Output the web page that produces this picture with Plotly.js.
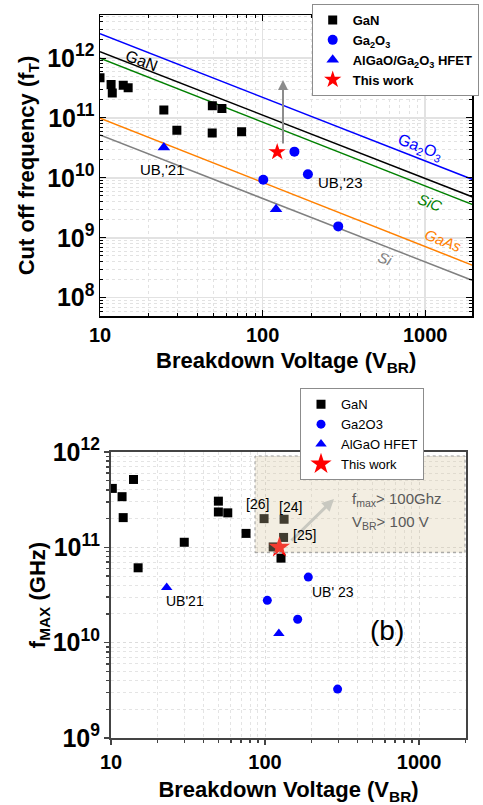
<!DOCTYPE html>
<html>
<head>
<meta charset="utf-8">
<script src="https://cdn.plot.ly/plotly-3.0.1.min.js"></script>
<style>html,body{margin:0;padding:0;background:#fff;}#chart{width:483px;height:805px;}</style>
</head>
<body>
<div id="chart"></div>
<script>
// ---------- DATA: top panel (cut-off frequency fT) ----------
const topGaN_x   = [10, 11.7, 11.9, 13.9, 14.9, 24.7, 29.7, 49.1, 56.2, 49, 74.3];
const topGaN_y   = [4.7e11, 3.6e11, 2.6e11, 3.5e11, 3.2e11, 1.36e11, 6.2e10, 1.6e11, 1.43e11, 5.6e10, 5.9e10];
const topGa2O3_x = [157, 190, 101, 292];
const topGa2O3_y = [2.74e10, 1.15e10, 9.3e9, 1.55e9];
const topHFET_x  = [24.7, 121];
const topHFET_y  = [3.2e10, 3.0e9];
const topThis_x  = [123];
const topThis_y  = [2.7e10];
// material limit lines (value at V_BR = 10 and 2000)
const limitX        = [10, 2000];
const limitGa2O3_y  = [2.54e12, 9.2e9];
const limitGaN_y    = [1.27e12, 4.7e9];
const limitSiC_y    = [9.9e11, 3.5e9];
const limitGaAs_y   = [9.9e10, 3.4e8];
const limitSi_y     = [5.2e10, 1.9e8];

// ---------- DATA: bottom panel (fMAX) ----------
const botGaN_x   = [10.2, 11.8, 12.0, 14.0, 15.0, 29.9, 49.8, 49.8, 57.3, 75.3, 98.6, 133, 132, 113, 127];
const botGaN_y   = [4.15e11, 3.4e11, 2.05e11, 5.15e11, 6.1e10, 1.13e11, 3.05e11, 2.35e11, 2.3e11, 1.4e11, 2.0e11, 1.97e11, 1.27e11, 1.01e11, 7.7e10];
const botGa2O3_x = [191, 103.5, 163, 296];
const botGa2O3_y = [4.87e10, 2.78e10, 1.76e10, 3.26e9];
const botHFET_x  = [23, 123];
const botHFET_y  = [3.8e10, 1.25e10];
const botThis_x  = [124];
const botThis_y  = [1.0e11];

const xTickVals = [10, 100, 1000];
const xTickText = ['10', '100', '1000'];

// ---------- helpers ----------
const W = 483, H = 805;
const px = x => x / W;
const py = y => 1 - y / H;
const FONT = 'Liberation Sans, Arial, sans-serif';

function lineTrace(y, color) {
  return {x: limitX, y: y, mode: 'lines', line: {color: color, width: 1.5},
          showlegend: false, hoverinfo: 'skip', xaxis: 'x', yaxis: 'y'};
}
function markerTrace(x, y, name, symbol, size, color, ax, ay, legend) {
  return {x: x, y: y, name: name, mode: 'markers', type: 'scatter',
          marker: {symbol: symbol, size: size, color: color, line: {width: 0}},
          xaxis: ax, yaxis: ay, legend: legend, cliponaxis: true};
}
function label(x, y, text, size, color, extra) {
  return Object.assign({xref: 'paper', yref: 'paper', x: px(x), y: py(y), text: text, showarrow: false,
    xanchor: 'center', yanchor: 'middle', font: {family: FONT, size: size, color: color}}, extra || {});
}

const traces = [
  lineTrace(limitGa2O3_y, '#0000ff'),
  lineTrace(limitGaN_y, '#000000'),
  lineTrace(limitSiC_y, '#008000'),
  lineTrace(limitGaAs_y, '#ff8000'),
  lineTrace(limitSi_y, '#808080'),
  markerTrace(topGaN_x, topGaN_y, 'GaN', 'square', 9, '#000000', 'x', 'y', 'legend'),
  markerTrace(topGa2O3_x, topGa2O3_y, 'Ga<sub>2</sub>O<sub>3</sub>', 'circle', 10, '#0000ff', 'x', 'y', 'legend'),
  markerTrace(topHFET_x, topHFET_y, 'AlGaO/Ga<sub>2</sub>O<sub>3</sub> HFET', 'triangle-up', 11, '#0000ff', 'x', 'y', 'legend'),
  markerTrace(topThis_x, topThis_y, 'This work', 'star', 13, '#ff0000', 'x', 'y', 'legend'),
  markerTrace(botGaN_x, botGaN_y, 'GaN', 'square', 9, '#000000', 'x2', 'y2', 'legend2'),
  markerTrace(botGa2O3_x, botGa2O3_y, 'Ga2O3', 'circle', 9, '#0000ff', 'x2', 'y2', 'legend2'),
  markerTrace(botHFET_x, botHFET_y, 'AlGaO HFET', 'triangle-up', 10, '#0000ff', 'x2', 'y2', 'legend2'),
  markerTrace(botThis_x, botThis_y, 'This work', 'star', 16, '#ff0000', 'x2', 'y2', 'legend2')
];

const tickFont = {family: FONT, size: 20, color: '#000', weight: 'bold'};
const titleFont = {family: FONT, size: 22, color: '#000', weight: 'bold'};

const topAxisCommon = {
  type: 'log', showline: true, linecolor: '#000', linewidth: 1.5, mirror: 'ticks',
  ticks: 'inside', ticklen: 6, tickwidth: 1, tickcolor: '#000',
  showgrid: true, gridcolor: '#e2e2e2', gridwidth: 1.5, zeroline: false,
  tickfont: tickFont,
  minor: {dtick: 'D1', ticks: 'inside', ticklen: 3, tickcolor: '#000', showgrid: true, gridcolor: '#e2e2e2', griddash: 'dot', gridwidth: 1}
};
const botAxisCommon = {
  type: 'log', showline: true, linecolor: '#444', linewidth: 2, mirror: true,
  ticks: 'outside', ticklen: 5, tickwidth: 1.5, tickcolor: '#444',
  showgrid: true, gridcolor: '#dcdcdc', gridwidth: 1, griddash: 'dot', zeroline: false,
  tickfont: tickFont,
  minor: {dtick: 'D1', ticks: 'outside', ticklen: 3, tickcolor: '#444', showgrid: true, gridcolor: '#e4e4e4', griddash: 'dot', gridwidth: 1}
};

const layout = {
  width: W, height: H,
  margin: {l: 0, r: 0, t: 0, b: 0},
  paper_bgcolor: '#fff', plot_bgcolor: '#fff',
  font: {family: FONT, color: '#000'},
  xaxis: Object.assign({}, topAxisCommon, {
    domain: [px(100), px(472.3)], range: [1, 3.29], anchor: 'y',
    tickmode: 'array', tickvals: xTickVals, ticktext: xTickText,
    title: {text: 'Breakdown Voltage (V<sub>BR</sub>)', font: titleFont, standoff: 8}
  }),
  yaxis: Object.assign({}, topAxisCommon, {
    domain: [py(316), py(15)], range: [7.695, 12.7175], anchor: 'x',
    dtick: 1, tick0: 0, exponentformat: 'power', showexponent: 'all',
    title: {text: 'Cut off frequency (f<sub>T</sub>)', font: titleFont, standoff: 6}
  }),
  xaxis2: Object.assign({}, botAxisCommon, {
    domain: [px(111), px(466)], range: [1, 3.305], anchor: 'y2',
    tickmode: 'array', tickvals: xTickVals, ticktext: xTickText,
    title: {text: 'Breakdown Voltage (V<sub>BR</sub>)', font: titleFont, standoff: 16}
  }),
  yaxis2: Object.assign({}, botAxisCommon, {
    domain: [py(738), py(452)], range: [9, 12], anchor: 'x2',
    dtick: 1, tick0: 0, exponentformat: 'power', showexponent: 'all',
    title: {text: 'f<sub>MAX</sub> (GHz)', font: titleFont, standoff: 0}
  }),
  legend: {
    x: px(311.7), y: py(4), xanchor: 'left', yanchor: 'top',
    bgcolor: '#fff', bordercolor: '#8c8c8c', borderwidth: 1,
    font: {family: FONT, size: 13, color: '#000', weight: 'bold'},
    itemwidth: 30, tracegroupgap: 0
  },
  legend2: {
    x: px(300), y: py(388.3), xanchor: 'left', yanchor: 'top',
    bgcolor: '#fff', bordercolor: '#8c8c8c', borderwidth: 1,
    font: {family: FONT, size: 13, color: '#000'},
    itemwidth: 30, tracegroupgap: 0
  },
  shapes: [
    {type: 'rect', xref: 'paper', yref: 'paper', x0: px(255), x1: px(465), y0: py(552.7), y1: py(456),
     fillcolor: 'rgba(215,200,160,0.3)', line: {color: '#999', width: 1, dash: 'dot'}, layer: 'above'}
  ],
  annotations: [
    // top panel labels
    label(141, 61, 'GaN', 16, '#000', {textangle: 21}),
    label(420, 147, 'Ga<sub>2</sub>O<sub>3</sub>', 16, '#0000ff', {textangle: 21}),
    label(430, 202, '<i>SiC</i>', 15, '#008000', {textangle: 21}),
    label(443, 241, '<i>GaAs</i>', 15, '#ff8000', {textangle: 21}),
    label(385, 259, '<i>Si</i>', 15, '#808080', {textangle: 21}),
    label(162, 170, "UB,'21", 15, '#000'),
    label(340, 182, "UB,'23", 15, '#000'),
    {xref: 'paper', yref: 'paper', x: px(283), y: py(80), ax: 0, ay: 65, text: '', showarrow: true,
     arrowcolor: '#8c8c8c', arrowwidth: 2, arrowhead: 2, arrowsize: 1},
    // bottom panel labels
    {xref: 'paper', yref: 'paper', x: px(334), y: py(499), ax: -44, ay: 43, text: '', showarrow: true,
     arrowcolor: '#c8c8c0', arrowwidth: 3, arrowhead: 2, arrowsize: 0.8},
    label(257, 504, '[26]', 14, '#000'),
    label(290, 507, '[24]', 14, '#000'),
    label(304, 535, '[25]', 14, '#000'),
    label(350, 500, 'f<sub>max</sub>> 100Ghz', 15, '#595959', {xanchor: 'left'}),
    label(350, 522, 'V<sub>BR</sub>> 100 V', 15, '#595959', {xanchor: 'left'}),
    label(185, 601, "UB'21", 14, '#000'),
    label(333, 592, "UB' 23", 14, '#000'),
    label(387, 630, '(b)', 28, '#000')
  ]
};

Plotly.newPlot('chart', traces, layout, {staticPlot: true, displayModeBar: false});
</script>
</body>
</html>
